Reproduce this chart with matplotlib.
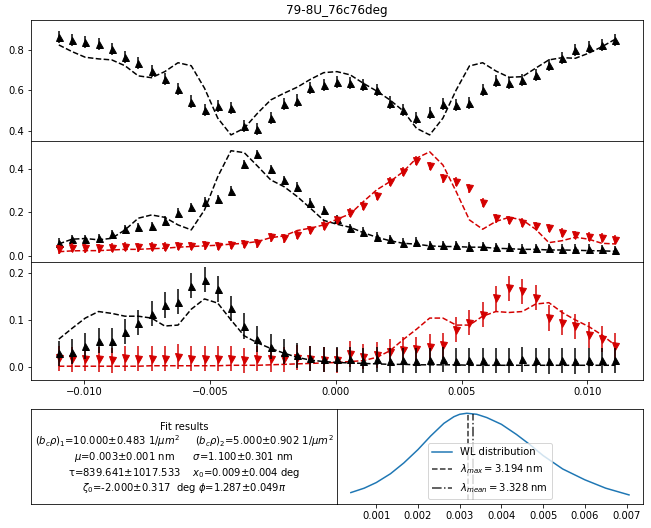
import numpy as np
import matplotlib
matplotlib.use('Agg')
import matplotlib.pyplot as plt

# scan angle grid (43 points)
angle = np.linspace(-0.011, 0.0111, 43)

# top panel: total intensity
tot_data = [0.866, 0.849, 0.841, 0.828, 0.803, 0.764, 0.734, 0.696, 0.657, 0.606,
            0.545, 0.504, 0.523, 0.512, 0.425, 0.408, 0.463, 0.533, 0.550, 0.611,
            0.627, 0.643, 0.638, 0.627, 0.602, 0.540, 0.504, 0.463, 0.487, 0.533,
            0.528, 0.537, 0.602, 0.647, 0.635, 0.652, 0.677, 0.726, 0.759, 0.800,
            0.816, 0.825, 0.849]
tot_fit = [0.825, 0.792, 0.764, 0.756, 0.751, 0.722, 0.672, 0.663, 0.693, 0.737,
           0.722, 0.611, 0.463, 0.380, 0.413, 0.487, 0.553, 0.586, 0.616, 0.655,
           0.688, 0.693, 0.677, 0.635, 0.597, 0.553, 0.499, 0.413, 0.380, 0.463,
           0.602, 0.721, 0.737, 0.696, 0.665, 0.668, 0.710, 0.751, 0.762, 0.759,
           0.784, 0.816, 0.853]
tot_err = 0.03

# middle panel: non spin-flip channels
up_data = [0.060, 0.076, 0.076, 0.080, 0.099, 0.122, 0.131, 0.137, 0.162, 0.199,
           0.224, 0.250, 0.261, 0.301, 0.424, 0.470, 0.399, 0.350, 0.319, 0.245,
           0.209, 0.169, 0.127, 0.111, 0.088, 0.077, 0.060, 0.065, 0.049, 0.048,
           0.048, 0.042, 0.045, 0.039, 0.039, 0.032, 0.036, 0.034, 0.032, 0.032,
           0.032, 0.031, 0.026]
up_fit = [0.054, 0.076, 0.079, 0.073, 0.080, 0.119, 0.173, 0.188, 0.177, 0.142,
          0.119, 0.211, 0.365, 0.485, 0.476, 0.414, 0.350, 0.319, 0.273, 0.219,
          0.163, 0.145, 0.131, 0.106, 0.085, 0.069, 0.057, 0.053, 0.045, 0.042,
          0.042, 0.039, 0.039, 0.034, 0.032, 0.029, 0.029, 0.026, 0.026, 0.025,
          0.023, 0.022, 0.020]
dn_data = [0.029, 0.037, 0.034, 0.034, 0.037, 0.042, 0.039, 0.042, 0.042, 0.045,
           0.045, 0.048, 0.045, 0.049, 0.053, 0.057, 0.085, 0.080, 0.096, 0.119,
           0.139, 0.164, 0.199, 0.230, 0.276, 0.342, 0.388, 0.439, 0.414, 0.358,
           0.342, 0.311, 0.245, 0.173, 0.165, 0.152, 0.137, 0.127, 0.106, 0.096,
           0.088, 0.083, 0.073]
dn_fit = [0.018, 0.022, 0.023, 0.023, 0.026, 0.029, 0.029, 0.032, 0.034, 0.039,
          0.042, 0.045, 0.048, 0.053, 0.057, 0.065, 0.083, 0.091, 0.116, 0.127,
          0.142, 0.168, 0.193, 0.250, 0.304, 0.342, 0.388, 0.450, 0.480, 0.419,
          0.296, 0.165, 0.122, 0.158, 0.177, 0.165, 0.122, 0.060, 0.069, 0.085,
          0.076, 0.057, 0.054]
nsf_err = 0.02

# bottom panel: spin-flip channels
sf1_data = [0.029, 0.032, 0.044, 0.056, 0.056, 0.075, 0.094, 0.113, 0.132, 0.139,
            0.173, 0.186, 0.166, 0.125, 0.087, 0.059, 0.043, 0.032, 0.024, 0.018,
            0.016, 0.016, 0.016, 0.013, 0.016, 0.013, 0.014, 0.013, 0.014, 0.016,
            0.013, 0.014, 0.014, 0.013, 0.013, 0.016, 0.014, 0.012, 0.014, 0.012,
            0.014, 0.014, 0.014]
sf1_fit = [0.059, 0.082, 0.104, 0.118, 0.114, 0.108, 0.108, 0.104, 0.087, 0.089,
           0.123, 0.145, 0.136, 0.100, 0.066, 0.051, 0.039, 0.029, 0.020, 0.014,
           0.011, 0.009, 0.008, 0.007, 0.006, 0.005, 0.005, 0.004, 0.004, 0.004,
           0.004, 0.003, 0.003, 0.003, 0.003, 0.003, 0.003, 0.003, 0.003, 0.003,
           0.003, 0.003, 0.003]
sf2_data = [0.018, 0.016, 0.017, 0.016, 0.014, 0.018, 0.017, 0.017, 0.017, 0.021,
            0.017, 0.017, 0.017, 0.017, 0.014, 0.017, 0.016, 0.016, 0.019, 0.017,
            0.015, 0.014, 0.027, 0.021, 0.025, 0.032, 0.036, 0.037, 0.043, 0.046,
            0.079, 0.094, 0.111, 0.146, 0.168, 0.161, 0.148, 0.104, 0.094, 0.086,
            0.068, 0.059, 0.044]
sf2_fit = [0.001, 0.001, 0.001, 0.001, 0.001, 0.001, 0.001, 0.002, 0.002, 0.002,
           0.002, 0.002, 0.002, 0.003, 0.003, 0.003, 0.004, 0.005, 0.006, 0.007,
           0.008, 0.009, 0.011, 0.013, 0.020, 0.034, 0.058, 0.080, 0.104, 0.104,
           0.089, 0.089, 0.108, 0.118, 0.116, 0.118, 0.134, 0.137, 0.116, 0.100,
           0.086, 0.068, 0.046]
sf_err = 0.027

# wavelength distribution
wl_x = [0.00039, 0.00071, 0.00100, 0.00134, 0.00166, 0.00200, 0.00230, 0.00262,
        0.00286, 0.00300, 0.00317, 0.00341, 0.00365, 0.00400, 0.00436, 0.00468,
        0.00500, 0.00547, 0.00600, 0.00650, 0.00706]
wl_y = [0.082, 0.133, 0.198, 0.300, 0.425, 0.580, 0.735, 0.883, 0.960, 0.988,
        1.000, 0.988, 0.950, 0.872, 0.755, 0.638, 0.510, 0.355, 0.230, 0.133,
        0.055]
lam_max = 0.003194
lam_mean = 0.003328

fit_text = ("Fit results\n"
            "$(b_c\\rho)_1$=10.000±0.483 $1/\\mu m^2$     $(b_c\\rho)_2$=5.000±0.902 $1/\\mu m^2$\n"
            "$\\mu$=0.003±0.001 nm      $\\sigma$=1.100±0.301 nm\n"
            "τ=839.641±1017.533    $x_0$=0.009±0.004 deg\n"
            "$\\zeta_0$=-2.000±0.317  deg $\\phi$=1.287±0.049$\\pi$")

red = '#d40000'

fig = plt.figure(figsize=(651/72, 528/72), dpi=72)
ax1 = fig.add_axes([0.0476, 0.733, 0.94, 0.229])
ax2 = fig.add_axes([0.0476, 0.504, 0.94, 0.229], sharex=ax1)
ax3 = fig.add_axes([0.0476, 0.2803, 0.94, 0.2235], sharex=ax1)
ax4 = fig.add_axes([0.0476, 0.0455, 0.47, 0.18])
ax5 = fig.add_axes([0.5176, 0.0455, 0.47, 0.18])


def draw(ax, data, fit, err, col, mk):
    ax.errorbar(angle, data, yerr=err, fmt='none', ecolor=col, elinewidth=2, alpha=0.75)
    ax.plot(angle, data, mk, color=col, ms=7, ls='none')
    ax.plot(angle, fit, '--', color=col, lw=1.5)


draw(ax1, tot_data, tot_fit, tot_err, 'k', '^')
ax1.set_ylim(0.35, 0.948)
ax1.set_yticks([0.4, 0.6, 0.8])
ax1.set_title('79-8U_76c76deg')

draw(ax2, up_data, up_fit, nsf_err, 'k', '^')
draw(ax2, dn_data, dn_fit, nsf_err, red, 'v')
ax2.set_ylim(-0.029, 0.53)
ax2.set_yticks([0.0, 0.2, 0.4])

draw(ax3, sf2_data, sf2_fit, sf_err, red, 'v')
draw(ax3, sf1_data, sf1_fit, sf_err, 'k', '^')
ax3.set_ylim(-0.0285, 0.224)
ax3.set_yticks([0.0, 0.1, 0.2])
ax3.set_xticks([-0.01, -0.005, 0.0, 0.005, 0.01])

for ax in (ax1, ax2):
    ax.tick_params(bottom=False, labelbottom=False)

ax4.set_xticks([])
ax4.set_yticks([])
ax4.text(0.5, 0.48, fit_text, ha='center', va='center', fontsize=10,
         transform=ax4.transAxes, linespacing=1.12)

ax5.plot(wl_x, wl_y, color='C0', label='WL distribution')
ax5.vlines(lam_max, 0, 1.0, colors='k', linestyles='--', alpha=0.8,
           label='$\\lambda_{max}$$= 3.194$ nm')
ax5.vlines(lam_mean, 0, 0.995, colors='k', linestyles='-.', alpha=0.8,
           label='$\\lambda_{mean}$$= 3.328$ nm')
ax5.set_yticks([])
ax5.set_xticks([0.001, 0.002, 0.003, 0.004, 0.005, 0.006, 0.007])
ax5.legend(loc='lower center')

fig.savefig('out.png', dpi=72)
